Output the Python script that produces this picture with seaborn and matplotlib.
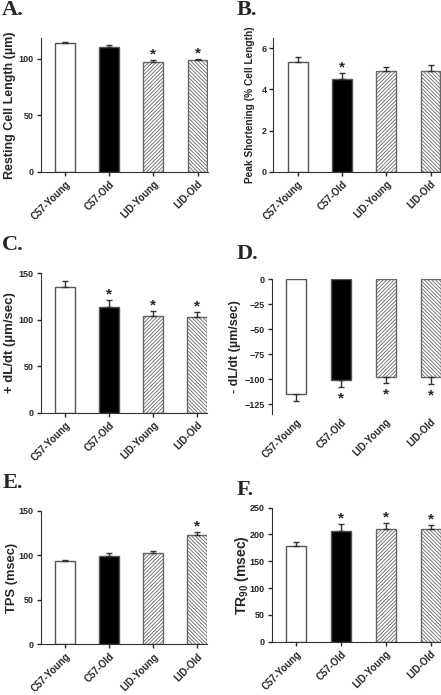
import numpy as np
import matplotlib
matplotlib.use('Agg')
import matplotlib.pyplot as plt
import seaborn as sns

sns.set_style('ticks')
plt.rcParams['font.family'] = ['Liberation Sans', 'DejaVu Sans']
plt.rcParams['font.weight'] = 'bold'
plt.rcParams['hatch.linewidth'] = 0.6
plt.rcParams['mathtext.fontset'] = 'custom'
plt.rcParams['mathtext.rm'] = 'Liberation Sans:bold'
plt.rcParams['mathtext.it'] = 'Liberation Sans:bold'
plt.rcParams['mathtext.bf'] = 'Liberation Sans:bold'

# данные
groups = ['C57-Young', 'C57-Old', 'LID-Young', 'LID-Old']

cell_length = [113.5, 110.5, 97.5, 98.5]
cell_length_err = [1.5, 2.0, 1.5, 1.0]
cell_length_sig = [0, 0, 1, 1]

peak_short = [5.31, 4.53, 4.89, 4.92]
peak_short_err = [0.26, 0.26, 0.22, 0.26]
peak_short_sig = [0, 1, 0, 0]

plus_dldt = [135, 114, 104, 103]
plus_dldt_err = [6.5, 7, 5, 5.5]
plus_dldt_sig = [0, 1, 1, 1]

minus_dldt = [-115, -101, -98, -98]
minus_dldt_err = [7, 7, 6, 7]
minus_dldt_sig = [0, 1, 1, 1]

tps = [93, 99, 102, 122.5]
tps_err = [1.5, 3, 2.5, 3.5]
tps_sig = [0, 0, 0, 1]

tr90 = [179, 207, 211, 210]
tr90_err = [7, 12, 11, 8]
tr90_sig = [0, 1, 1, 1]

fills = ['white', 'black', 'white', 'white']
hatches = ['', '', '/' * 9, '\\' * 9]

fig = plt.figure(figsize=(4.41, 6.95), dpi=100)


def panel(rect, vals, errs, sig, ylabel, lab_size, lab_x, ylim, yticks, letter, letter_xy, down=False):
    ax = fig.add_axes(rect)
    sns.barplot(x=groups, y=vals, hue=groups, palette=fills, legend=False,
                width=0.45, edgecolor='#555555', linewidth=1.0, ax=ax)
    for p, h in zip(ax.patches, hatches):
        if h:
            p.set_hatch(h)
            p.set_edgecolor('#666666')
    x = np.arange(len(groups))
    zeros = [0] * len(errs)
    yerr = [errs, zeros] if down else [zeros, errs]
    ax.errorbar(x, vals, yerr=yerr, fmt='none', ecolor='#333333',
                elinewidth=1.0, capsize=2.5, capthick=1.0)
    span = ylim[1] - ylim[0]
    for i in range(len(groups)):
        if sig[i]:
            if down:
                ax.text(x[i], vals[i] - errs[i] - span * 0.03, '*', ha='center', va='top',
                        fontsize=11, fontweight='bold')
            else:
                ax.text(x[i], vals[i] + errs[i] - span * 0.01, '*', ha='center', va='bottom',
                        fontsize=11, fontweight='bold')
    ax.set_xlim(-0.55, 3.23)
    ax.set_ylim(*ylim)
    ax.set_yticks(yticks)
    ax.set_ylabel(ylabel, fontsize=lab_size, fontweight='bold')
    ax.yaxis.set_label_coords(lab_x, 0.5)
    ax.yaxis.label.set_va('center')
    ax.set_xlabel('')
    ax.tick_params(axis='y', labelsize=6.5, length=3, width=1, pad=2)
    ax.tick_params(axis='x', labelsize=7, length=3, width=1, pad=2)
    ax.set_xticks(x)
    ax.set_xticklabels(groups, rotation=45, ha='right', rotation_mode='anchor', fontweight='bold')
    for lab in ax.get_yticklabels():
        lab.set_fontweight('bold')
    ax.spines['top'].set_visible(False)
    ax.spines['right'].set_visible(False)
    ax.spines['left'].set_color('#333333')
    ax.spines['bottom'].set_color('#333333')
    if down:
        ax.spines['bottom'].set_visible(False)
        ax.tick_params(axis='x', length=0)
    fig.text(letter_xy[0], letter_xy[1], letter, family='Liberation Serif',
             fontsize=16, fontweight='bold', va='baseline')
    return ax


panel([0.0923, 0.7529, 0.3787, 0.1919], cell_length, cell_length_err, cell_length_sig,
      'Resting Cell Length (µm)', 9, -0.184, (0, 118), [0, 50, 100], 'A.', (0.005, 0.978))
panel([0.6197, 0.7529, 0.3796, 0.1924], peak_short, peak_short_err, peak_short_sig,
      'Peak Shortening (% Cell Length)', 7.3, -0.139, (0, 6.5), [0, 2, 4, 6], 'B.', (0.537, 0.978))
panel([0.0923, 0.4062, 0.378, 0.2006], plus_dldt, plus_dldt_err, plus_dldt_sig,
      '+ dL/dt (µm/sec)', 9.5, -0.184, (0, 150), [0, 50, 100, 150], 'C.', (0.005, 0.640))
panel([0.6161, 0.4039, 0.384, 0.1942], minus_dldt, minus_dldt_err, minus_dldt_sig,
      '- dL/dt (µm/sec)', 9, -0.217, (-135, 0), [0, -25, -50, -75, -100, -125], 'D.', (0.537, 0.628),
      down=True)
panel([0.0923, 0.0730, 0.378, 0.1922], tps, tps_err, tps_sig,
      'TPS (msec)', 9.3, -0.17, (0, 150), [0, 50, 100, 150], 'E.', (0.005, 0.298))
panel([0.6161, 0.0767, 0.384, 0.1928], tr90, tr90_err, tr90_sig,
      r'TR$_{90}$ (msec)', 10, -0.177, (0, 250), [0, 50, 100, 150, 200, 250], 'F.', (0.537, 0.288))

fig.savefig('out.png', dpi=100)
